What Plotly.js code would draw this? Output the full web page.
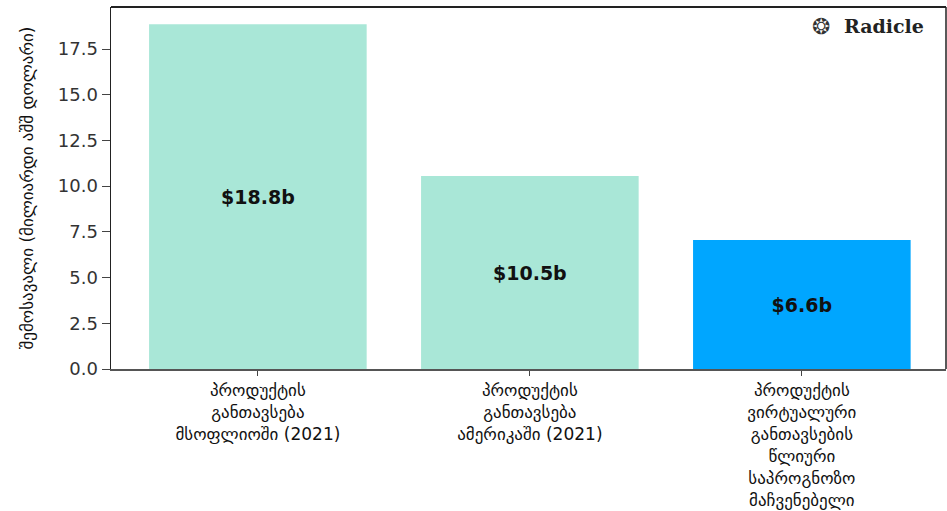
<!DOCTYPE html>
<html>
<head>
<meta charset="utf-8">
<script src="https://cdn.plot.ly/plotly-3.0.1.min.js"></script>
<style>html,body{margin:0;padding:0;background:#fff;}#chart{width:947px;height:511px;}</style>
</head>
<body>
<div id="chart"></div>
<script>
const categories = [
  "პროდუქტის<br>განთავსება<br>მსოფლიოში (2021)",
  "პროდუქტის<br>განთავსება<br>ამერიკაში (2021)",
  "პროდუქტის<br>ვირტუალური<br>განთავსების<br>წლიური<br>საპროგნოზო<br>მაჩვენებელი"
];
const values = [18.85, 10.55, 7.05];
const barLabels = ["$18.8b", "$10.5b", "$6.6b"];
const barColors = ["#a9e7d7", "#a9e7d7", "#00a6ff"];
const yTitle = "შემოსავალი (მილიარდი აშშ დოლარი)";
const brand = "Radicle";

const trace = {
  type: "bar",
  x: [0, 1, 2],
  y: values,
  text: barLabels,
  textposition: "inside",
  insidetextanchor: "middle",
  textfont: {family: "DejaVu Sans, sans-serif", size: 19, color: "#111", weight: "bold"},
  marker: {color: barColors},
  width: 0.8,
  hoverinfo: "none"
};

const layout = {
  width: 947, height: 511,
  margin: {l: 111, r: 1, t: 7, b: 142},
  paper_bgcolor: "#fff", plot_bgcolor: "#fff",
  showlegend: false,
  font: {family: "DejaVu Sans, sans-serif"},
  xaxis: {
    range: [-0.54, 2.53],
    tickmode: "array", tickvals: [0, 1, 2], ticktext: categories,
    ticks: "outside", ticklen: 5, tickcolor: "#444",
    showline: true, linecolor: "#555", linewidth: 1.5,
    showgrid: false, zeroline: false,
    tickfont: {family: "DejaVu Sans, sans-serif", size: 17, color: "#111"},
    fixedrange: true
  },
  yaxis: {
    range: [0, 19.8],
    tickmode: "linear", tick0: 0, dtick: 2.5, tickformat: ".1f",
    ticks: "outside", ticklen: 8, tickcolor: "#444",
    showline: true, linecolor: "#222", linewidth: 1.5,
    showgrid: false, zeroline: false,
    tickfont: {family: "DejaVu Sans, sans-serif", size: 18, color: "#333"},
    title: {text: yTitle, font: {family: "DejaVu Sans, sans-serif", size: 17, color: "#111"}, standoff: 20},
    fixedrange: true
  },
  shapes: [
    {type: "line", xref: "paper", yref: "paper", x0: 0, x1: 1, y0: 1, y1: 1, line: {color: "#222", width: 2}},
    {type: "line", xref: "paper", yref: "paper", x0: 1, x1: 1, y0: 0, y1: 1, line: {color: "#222", width: 1.5}}
  ],
  annotations: [
    {xref: "paper", yref: "paper", x: 0.976, y: 0.947, xanchor: "right", yanchor: "middle",
     text: "<b>" + brand + "</b>", showarrow: false,
     font: {family: "DejaVu Serif, serif", size: 19, color: "#222"}},
    {xref: "paper", yref: "paper", x: 0.863, y: 0.947, xanchor: "right", yanchor: "middle",
     text: "❂", showarrow: false,
     font: {family: "DejaVu Sans, sans-serif", size: 22, color: "#333"}}
  ]
};

Plotly.newPlot("chart", [trace], layout, {displayModeBar: false, staticPlot: true});
</script>
</body>
</html>
